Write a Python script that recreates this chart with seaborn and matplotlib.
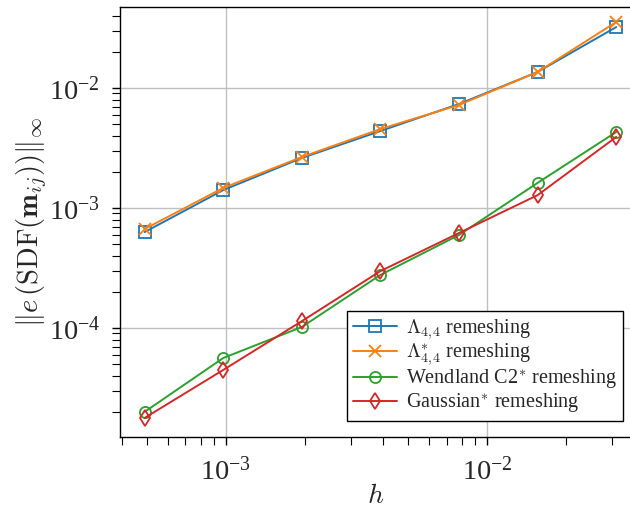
import numpy as np
import pandas as pd
import matplotlib
matplotlib.use("Agg")
import matplotlib.pyplot as plt
import seaborn as sns

h = [1/2048, 1/1024, 1/512, 1/256, 1/128, 1/64, 1/32]
lam44 = [6.3e-4, 1.41e-3, 2.61e-3, 4.38e-3, 7.36e-3, 1.36e-2, 3.22e-2]
lam44s = [6.68e-4, 1.47e-3, 2.66e-3, 4.55e-3, 7.22e-3, 1.36e-2, 3.55e-2]
wend = [2.0e-5, 5.62e-5, 1.02e-4, 2.77e-4, 5.96e-4, 1.62e-3, 4.3e-3]
gauss = [1.78e-5, 4.47e-5, 1.14e-4, 2.98e-4, 6.19e-4, 1.28e-3, 3.91e-3]
labels = [r"$\Lambda_{4,\!4}$ remeshing", r"$\Lambda_{4,\!4}^{*}$ remeshing",
          r"Wendland C2$^{*}$ remeshing", r"Gaussian$^{*}$ remeshing"]

sns.set_theme(style="ticks")
plt.rcParams["font.family"] = ["Liberation Serif", "DejaVu Serif"]
plt.rcParams["mathtext.fontset"] = "cm"

fig = plt.figure(figsize=(6.3, 5.08), dpi=100)
ax = fig.add_axes([120/630, 1 - 437/508, (632-120)/630, (437-7)/508])

colors = ["#1f77b4", "#ff7f0e", "#2ca02c", "#d62728"]
markers = ["s", "x", "o", "d"]
msizes = [8, 9, 8, 8]
series = [lam44, lam44s, wend, gauss]
for vals, c, m, ms, lab in zip(series, colors, markers, msizes, labels):
    df = pd.DataFrame({"h": h, "err": vals})
    sns.lineplot(data=df, x="h", y="err", ax=ax, color=c, marker=m, ms=ms,
                 mfc="none", mec=c, mew=1.3, lw=1.4, label=lab)

ax.set_xscale("log")
ax.set_yscale("log")
ax.set_xlim(3.93e-4, 0.0359)
ax.set_ylim(1.235e-5, 0.0473)
ax.grid(True, which="major", color="#c0c0c0", lw=1.0)
ax.tick_params(which="both", direction="out", color="black", labelsize=20.5)
ax.tick_params(which="major", length=5.8, width=1, pad=8.5)
ax.tick_params(which="minor", length=5.8, width=0.8)
for s in ax.spines.values():
    s.set_color("black")
    s.set_linewidth(1.0)
ax.set_xlabel(r"$h$", fontsize=20, labelpad=-1)
ax.set_ylabel(r"$\|e\,(\mathrm{SDF}(\mathbf{m}_{ij}))\|_\infty$", fontsize=20.5, labelpad=0)

leg = ax.legend(loc="lower right", bbox_to_anchor=((623-120)/512, 0.037), borderaxespad=0,
                fontsize=14.5, frameon=True, fancybox=False, framealpha=1, edgecolor="black",
                handlelength=2.2, borderpad=0.3, labelspacing=0.0, handletextpad=0.45)
leg.get_frame().set_linewidth(1.0)

fig.savefig("out.png", dpi=100)
